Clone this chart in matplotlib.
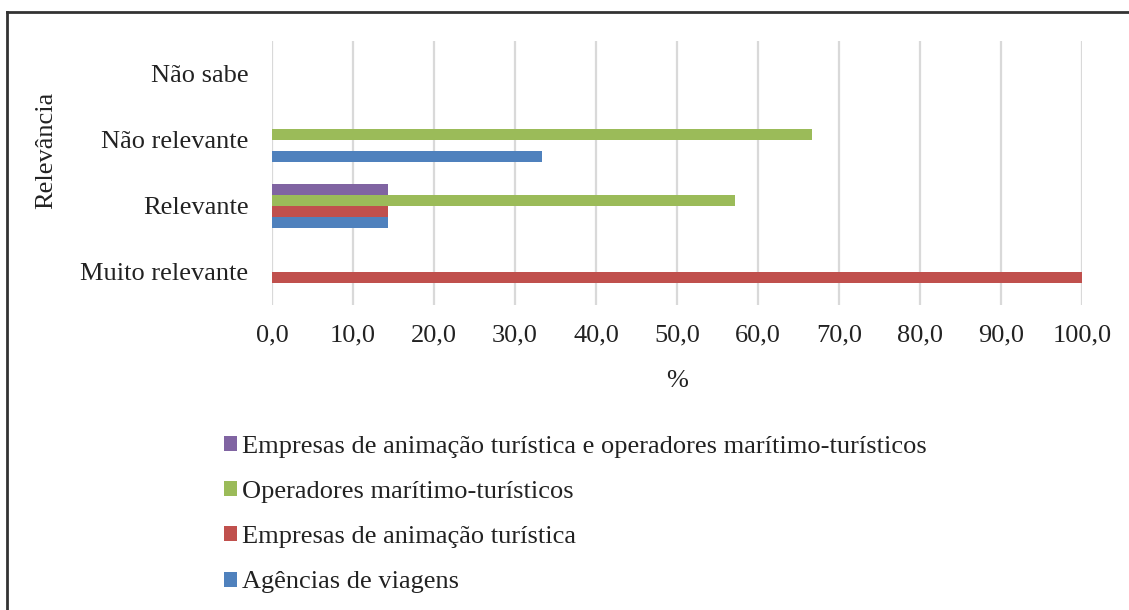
import matplotlib.pyplot as plt
from matplotlib.patches import Patch
from matplotlib.lines import Line2D
import numpy as np

plt.rcParams['font.family'] = ['Liberation Serif', 'DejaVu Serif']

categories = ['Muito relevante', 'Relevante', 'Não relevante', 'Não sabe']
series_names = ['Agências de viagens',
                'Empresas de animação turística',
                'Operadores marítimo-turísticos',
                'Empresas de animação turística e operadores marítimo-turísticos']
agencias = [0.0, 14.3, 33.3, 0.0]
animacao = [100.0, 14.3, 0.0, 0.0]
operadores = [0.0, 57.1, 66.7, 0.0]
animacao_operadores = [0.0, 14.3, 0.0, 0.0]
colors = ['#4F81BD', '#C0504D', '#9BBB59', '#8064A2']
x_ticks = [0, 10, 20, 30, 40, 50, 60, 70, 80, 90, 100]


def main():
    fig = plt.figure(figsize=(11.29, 6.1), dpi=100)
    ax = fig.add_axes([272 / 1129, 1 - 305 / 610, 810 / 1129, 264 / 610])

    all_series = [agencias, animacao, operadores, animacao_operadores]
    y = np.arange(len(categories))
    h = 0.168
    for i, (vals, col) in enumerate(zip(all_series, colors)):
        ax.barh(y + (i - 1.5) * h, vals, height=h, color=col, zorder=3)

    ax.set_xlim(0, 100)
    ax.set_ylim(-0.5, 3.5)
    ax.set_xticks(x_ticks)
    ax.set_xticklabels([f'{v:.1f}'.replace('.', ',') for v in x_ticks])
    ax.set_yticks(y)
    ax.set_yticklabels(categories)
    ax.tick_params(axis='both', length=0, labelsize=19, colors='#222222')
    ax.tick_params(axis='y', pad=17)
    ax.tick_params(axis='x', pad=14)
    ax.grid(axis='x', color='#d9d9d9', linewidth=1.6, zorder=0)
    for s in ax.spines.values():
        s.set_visible(False)

    ax.set_xlabel('%', fontsize=19, color='#222222', labelpad=17)
    fig.text(46 / 1129, 1 - 150 / 610, 'Relevância', rotation=90,
             fontsize=19, color='#222222', ha='center', va='center')

    handles = [Patch(facecolor=c) for c in colors][::-1]
    labels = series_names[::-1]
    fig.legend(handles, labels, loc='upper left',
               bbox_to_anchor=(200 / 1129, 1 - 412 / 610),
               frameon=False, fontsize=19, handlelength=0.5,
               handleheight=0.5, handletextpad=0.2, labelspacing=0.88,
               labelcolor='#222222')

    # frame around the figure, open at right and bottom
    fig.add_artist(Line2D([7 / 1129, 1.0], [1 - 12 / 610] * 2,
                          transform=fig.transFigure, color='#333333', lw=2))
    fig.add_artist(Line2D([7 / 1129] * 2, [0.0, 1 - 12 / 610],
                          transform=fig.transFigure, color='#333333', lw=2))

    fig.savefig('out.png', dpi=100)


if __name__ == '__main__':
    main()
